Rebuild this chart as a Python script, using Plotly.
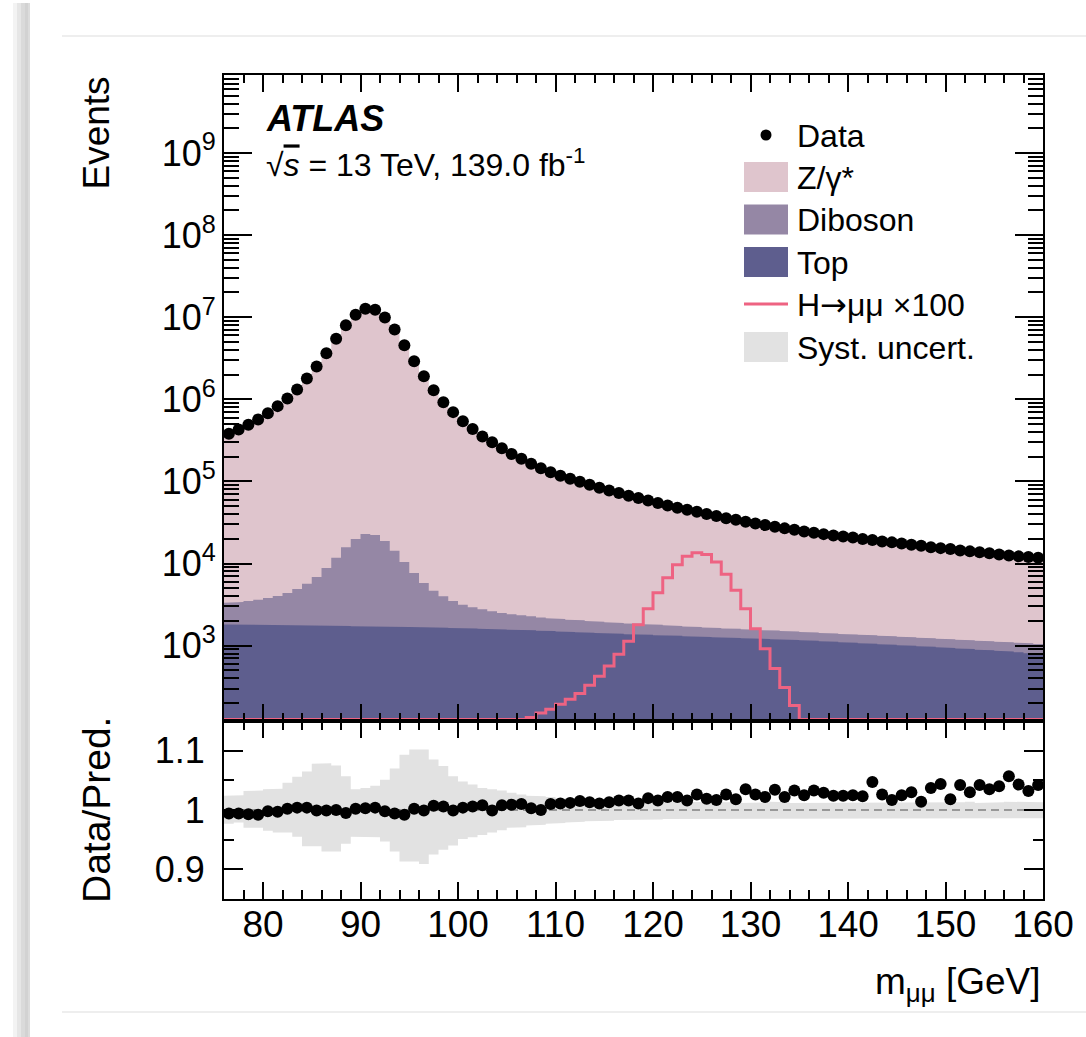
import plotly.graph_objects as go

# ---------------- data ----------------
bin_low_edges = list(range(76, 160))          # 1 GeV bins, 76 -> 160 GeV

data_events = [
    381000, 430000, 490000, 569000, 678000, 826000, 1023000, 1318000, 1795000, 2512000,
    3648000, 5458000, 8000000, 10690000, 12650000, 12300000, 9910000, 7080000, 4560000, 2910000,
    1914000, 1291000, 923000, 698000, 542000, 434000, 353000, 299000, 254000, 216000,
    189000, 164000, 145000, 129000, 117000, 108000, 99100, 91200, 83800, 77600,
    72100, 67000, 62700, 58700, 54500, 51000, 47900, 45300, 42800, 40000,
    37800, 35700, 34200, 32300, 30800, 29400, 28100, 26800, 25800, 24600,
    23700, 22800, 22000, 21400, 20700, 19900, 19300, 18600, 18100, 17500,
    16900, 16500, 15800, 15400, 15000, 14450, 14060, 13680, 13300, 12910,
    12560, 12220, 11990, 11780]

# top edge of the Z/gamma* layer (= total prediction)
stack_total = [
    383300, 432600, 493500, 573600, 679400, 828500, 1021000, 1313000, 1788000, 2515000,
    3652000, 5458000, 8040000, 10670000, 12610000, 12250000, 9930000, 7120000, 4600000, 2904000,
    1916000, 1282000, 917500, 698700, 539800, 431400, 350200, 299300, 252000, 214100,
    187100, 163500, 145000, 127700, 115700, 106700, 97600, 90000, 82900, 76600,
    71000, 65900, 62000, 57500, 53600, 49900, 46900, 44600, 41700, 39300,
    37200, 34800, 33600, 31200, 30000, 28800, 27200, 26200, 25000, 24000,
    22900, 22200, 21500, 20900, 20200, 19450, 18430, 18130, 17800, 17070,
    16410, 16270, 15240, 14750, 14730, 13870, 13650, 13130, 12850, 12410,
    11880, 11720, 11620, 11300]

# top edge of the Diboson layer (Top + Diboson)
stack_diboson = [
    3334, 3396, 3491, 3631, 3802, 4018, 4375, 4887, 5675, 6839,
    8810, 11780, 15740, 19860, 22860, 22230, 18790, 14320, 10420, 7656,
    5794, 4667, 3981, 3491, 3155, 2924, 2767, 2618, 2495, 2404,
    2339, 2275, 2208, 2148, 2109, 2070, 2032, 1995, 1959, 1923,
    1888, 1862, 1841, 1820, 1795, 1766, 1738, 1714, 1687, 1663,
    1641, 1622, 1600, 1581, 1560, 1542, 1524, 1503, 1486, 1469,
    1449, 1429, 1409, 1390, 1371, 1352, 1334, 1315, 1297, 1279,
    1262, 1245, 1227, 1211, 1194, 1178, 1161, 1146, 1130, 1114,
    1099, 1084, 1067, 1050]

# Top layer
stack_top = [
    1810, 1805, 1800, 1793, 1787, 1780, 1773, 1766, 1760, 1752,
    1745, 1738, 1731, 1724, 1717, 1710, 1703, 1696, 1689, 1682,
    1672, 1661, 1649, 1637, 1625, 1613, 1601, 1589, 1577, 1565,
    1550, 1534, 1518, 1502, 1486, 1470, 1454, 1438, 1422, 1406,
    1393, 1380, 1367, 1354, 1341, 1328, 1315, 1302, 1290, 1278,
    1266, 1254, 1242, 1230, 1219, 1208, 1197, 1186, 1175, 1164,
    1148, 1132, 1117, 1102, 1087, 1072, 1057, 1042, 1027, 1013,
    998, 983, 968, 953, 938, 923, 908, 893, 878, 864,
    850, 830, 810, 790]

# H -> mumu x100 (0 = below the visible range)
signal_x100 = [
    0, 0, 0, 0, 0, 0, 0, 0, 0, 0,
    0, 0, 0, 0, 0, 0, 0, 0, 0, 0,
    0, 0, 0, 0, 0, 0, 0, 0, 0, 0,
    0, 133, 151, 168, 193, 222, 262, 329, 423, 565,
    783, 1128, 1800, 2820, 4410, 6730, 9680, 12220, 13550, 12920,
    10430, 7380, 4710, 2820, 1610, 919, 525, 308, 186, 0,
    0, 0, 0, 0, 0, 0, 0, 0, 0, 0,
    0, 0, 0, 0, 0, 0, 0, 0, 0, 0,
    0, 0, 0, 0]

ratio = [
    0.994, 0.994, 0.993, 0.992, 0.998, 0.997, 1.002, 1.004, 1.004, 0.999,
    0.999, 1.000, 0.995, 1.002, 1.003, 1.004, 0.998, 0.994, 0.992, 1.002,
    0.999, 1.007, 1.006, 0.999, 1.004, 1.006, 1.008, 0.999, 1.008, 1.009,
    1.010, 1.003, 1.000, 1.010, 1.011, 1.012, 1.015, 1.013, 1.011, 1.013,
    1.016, 1.016, 1.011, 1.020, 1.016, 1.022, 1.022, 1.016, 1.026, 1.019,
    1.017, 1.026, 1.018, 1.035, 1.026, 1.022, 1.034, 1.022, 1.033, 1.025,
    1.033, 1.029, 1.024, 1.024, 1.025, 1.023, 1.047, 1.026, 1.017, 1.025,
    1.030, 1.014, 1.037, 1.044, 1.018, 1.042, 1.030, 1.042, 1.035, 1.040,
    1.057, 1.043, 1.032, 1.042]

syst_up = [
    1.024, 1.025, 1.032, 1.033, 1.035, 1.036, 1.046, 1.056, 1.065, 1.078,
    1.079, 1.075, 1.057, 1.035, 1.037, 1.041, 1.051, 1.070, 1.093, 1.102,
    1.102, 1.085, 1.074, 1.057, 1.048, 1.043, 1.037, 1.035, 1.033, 1.029,
    1.026, 1.024, 1.023, 1.022, 1.020, 1.019, 1.018, 1.017, 1.017, 1.016,
    1.016, 1.015, 1.015, 1.014, 1.014, 1.014, 1.013, 1.014, 1.013, 1.013,
    1.014, 1.013, 1.013, 1.012, 1.013, 1.013, 1.014, 1.013, 1.012, 1.013,
    1.013, 1.012, 1.013, 1.013, 1.012, 1.013, 1.013, 1.012, 1.013, 1.012,
    1.013, 1.012, 1.013, 1.013, 1.012, 1.013, 1.014, 1.012, 1.013, 1.013,
    1.014, 1.013, 1.014, 1.013]

syst_dn = [
    0.977, 0.979, 0.970, 0.970, 0.965, 0.962, 0.962, 0.955, 0.939, 0.939,
    0.930, 0.930, 0.943, 0.955, 0.954, 0.954, 0.947, 0.930, 0.913, 0.913,
    0.909, 0.925, 0.933, 0.940, 0.951, 0.954, 0.958, 0.962, 0.966, 0.970,
    0.971, 0.974, 0.975, 0.977, 0.978, 0.979, 0.980, 0.981, 0.982, 0.982,
    0.983, 0.983, 0.984, 0.984, 0.984, 0.985, 0.985, 0.985, 0.985, 0.986,
    0.985, 0.986, 0.986, 0.985, 0.986, 0.986, 0.985, 0.986, 0.986, 0.986,
    0.985, 0.986, 0.986, 0.986, 0.985, 0.986, 0.986, 0.986, 0.985, 0.986,
    0.986, 0.985, 0.986, 0.986, 0.986, 0.985, 0.986, 0.986, 0.986, 0.985,
    0.986, 0.985, 0.986, 0.986]

main_tick_vals = [1e3, 1e4, 1e5, 1e6, 1e7, 1e8, 1e9]
main_tick_text = ["10<sup>%d</sup>" % e for e in range(3, 10)]
ratio_tick_vals = [0.9, 1.0, 1.1]
ratio_tick_text = ["0.9", "1", "1.1"]
x_tick_vals = [80, 90, 100, 110, 120, 130, 140, 150, 160]

# ---------------- styling / geometry ----------------
W, H = 1086, 1037
ML, MR, MT, MB = 224, 43, 75, 138
PW, PH = W - ML - MR, H - MT - MB
X_MIN, X_MAX = 76, 160
LOGY = (2.082, 9.95)
RATIO_RANGE = (0.85, 1.15)
split = 178 / PH
FONT = "Liberation Sans, Arial, Helvetica, sans-serif"

C_Z = "#dfc5cd"
C_DIB = "#9587a5"
C_TOP = "#5e5e8e"
C_SIG = "#ee6382"
C_SYST = "#e2e2e2"

def xp(px):
    return (px - ML) / PW

def yp(py):
    return (H - MB - py) / PH

bin_width = 1
centers = [lo + bin_width / 2 for lo in bin_low_edges]
floor_val = 10 ** (LOGY[0] - 1)


def step_polygon(vals, floor):
    xs, ys = [], []
    for lo, v in zip(bin_low_edges, vals):
        xs += [lo, lo + bin_width]
        ys += [v, v]
    xs += [bin_low_edges[-1] + bin_width, bin_low_edges[0]]
    ys += [floor, floor]
    return xs, ys


def band_polygon(up, dn):
    xs, ys = [], []
    for lo, v in zip(bin_low_edges, up):
        xs += [lo, lo + bin_width]
        ys += [v, v]
    for lo, v in zip(reversed(bin_low_edges), reversed(dn)):
        xs += [lo + bin_width, lo]
        ys += [v, v]
    return xs, ys


fig = go.Figure()

for vals, col, name in [(stack_total, C_Z, "Z/γ*"), (stack_diboson, C_DIB, "Diboson"),
                        (stack_top, C_TOP, "Top")]:
    sx, sy = step_polygon(vals, floor_val)
    fig.add_trace(go.Scatter(x=sx, y=sy, mode="lines", fill="toself", fillcolor=col,
                             line=dict(width=0, color=col), name=name,
                             xaxis="x", yaxis="y", hoverinfo="skip"))

# signal step line, values below range drawn just above the bottom edge
sig_floor = 10 ** (LOGY[0] + 0.018)
sig_draw = [max(v, sig_floor) for v in signal_x100]
fig.add_trace(go.Scatter(x=bin_low_edges + [bin_low_edges[-1] + bin_width],
                         y=sig_draw + [sig_draw[-1]], mode="lines",
                         line=dict(shape="hv", color=C_SIG, width=3),
                         name="H→μμ ×100", xaxis="x", yaxis="y"))

fig.add_trace(go.Scatter(x=centers, y=data_events, mode="markers",
                         marker=dict(color="black", size=12), name="Data",
                         xaxis="x", yaxis="y"))

# ratio panel
bx, by = band_polygon(syst_up, syst_dn)
fig.add_trace(go.Scatter(x=bx, y=by, mode="lines", fill="toself", fillcolor=C_SYST,
                         line=dict(width=0, color=C_SYST), name="Syst. uncert.",
                         xaxis="x2", yaxis="y2", hoverinfo="skip"))
fig.add_trace(go.Scatter(x=[X_MIN, X_MAX], y=[1, 1], mode="lines",
                         line=dict(color="#808080", width=1.5, dash="8px,5px"),
                         xaxis="x2", yaxis="y2", hoverinfo="skip"))
fig.add_trace(go.Scatter(x=centers, y=ratio, mode="markers",
                         marker=dict(color="black", size=12),
                         xaxis="x2", yaxis="y2"))

axis_common = dict(showline=True, linecolor="black", linewidth=2, mirror="allticks",
                   ticks="inside", tickcolor="black", tickwidth=1.8, showgrid=False,
                   zeroline=False)

fig.update_layout(
    width=W, height=H, margin=dict(l=ML, r=MR, t=MT, b=MB, pad=0),
    paper_bgcolor="white", plot_bgcolor="white", showlegend=False,
    font=dict(family=FONT, color="black"),
    xaxis=dict(axis_common, domain=[0, 1], anchor="y", range=[X_MIN, X_MAX],
               tickvals=x_tick_vals, ticklen=17, showticklabels=False,
               minor=dict(dtick=2, tick0=76, ticks="inside", ticklen=8,
                          tickcolor="black", tickwidth=1.8)),
    xaxis2=dict(axis_common, domain=[0, 1], anchor="y2", range=[X_MIN, X_MAX],
                matches="x", tickvals=x_tick_vals, ticklen=17,
                tickfont=dict(size=37, family=FONT), ticklabelstandoff=-8,
                minor=dict(dtick=2, tick0=76, ticks="inside", ticklen=9,
                           tickcolor="black", tickwidth=1.8)),
    yaxis=dict(axis_common, domain=[split, 1], anchor="x", type="log",
               range=list(LOGY), tickvals=main_tick_vals, ticktext=main_tick_text,
               ticklen=28, tickfont=dict(size=36, family=FONT), ticklabelstandoff=-1,
               minor=dict(tickvals=[m * 10 ** e for e in range(2, 10) for m in range(2, 10)],
                          ticks="inside", ticklen=15, tickcolor="black", tickwidth=1.5)),
    yaxis2=dict(axis_common, domain=[0, split], anchor="x2",
                range=list(RATIO_RANGE), tickvals=ratio_tick_vals, ticktext=ratio_tick_text,
                ticklen=19, tickfont=dict(size=36, family=FONT), ticklabelstandoff=10,
                minor=dict(tickvals=[0.95, 1.05], ticks="inside", ticklen=10,
                           tickcolor="black", tickwidth=1.8)),
)

ann = []
ann.append(dict(text="Events", textangle=-90, x=xp(96), y=1, xref="paper", yref="paper",
                xanchor="center", yanchor="top", showarrow=False,
                font=dict(size=37, family=FONT)))
ann.append(dict(text="Data/Pred.", textangle=-90, x=xp(96), y=yp(810), xref="paper",
                yref="paper", xanchor="center", yanchor="middle", showarrow=False,
                font=dict(size=39, family=FONT)))
ann.append(dict(text="m<sub>μμ</sub> [GeV]", x=1, y=yp(984), xref="paper", yref="paper",
                xanchor="right", yanchor="middle", showarrow=False,
                font=dict(size=37, family=FONT)))
ann.append(dict(text="<b><i>ATLAS</i></b>", x=xp(264), y=yp(119), xref="paper",
                yref="paper", xanchor="left", yanchor="middle", showarrow=False,
                font=dict(size=36, family=FONT)))
ann.append(dict(text="√<span style='text-decoration:overline'><i>s</i></span> = 13 TeV, 139.0 fb<sup>-1</sup>",
                x=xp(264), y=yp(163),
                xref="paper", yref="paper", xanchor="left", yanchor="middle",
                showarrow=False, font=dict(size=32, family=FONT)))

legend_rows = [("Data", 135), ("Z/γ*", 177), ("Diboson", 219.5), ("Top", 262),
               ("H<span style='font-family:DejaVu Sans'>→</span>μμ ×100", 304),
               ("Syst. uncert.", 347)]
shapes = []
box_x0, box_x1, box_h = 744, 788, 30
for label, cy in legend_rows:
    ann.append(dict(text=label, x=xp(795), y=yp(cy + 1), xref="paper", yref="paper",
                    xanchor="left", yanchor="middle", showarrow=False,
                    font=dict(size=32, family=FONT)))
legend_fill = {"Z/γ*": C_Z, "Diboson": C_DIB, "Top": C_TOP, "Syst. uncert.": C_SYST}
for label, cy in legend_rows:
    if label in legend_fill:
        shapes.append(dict(type="rect", xref="paper", yref="paper",
                           x0=xp(box_x0), x1=xp(box_x1), y0=yp(cy - box_h / 2),
                           y1=yp(cy + box_h / 2), fillcolor=legend_fill[label],
                           line=dict(width=0)))
    elif label == "Data":
        shapes.append(dict(type="circle", xref="paper", yref="paper",
                           x0=xp(766 - 5.5), x1=xp(766 + 5.5), y0=yp(cy + 5.5),
                           y1=yp(cy - 5.5), fillcolor="black", line=dict(width=0)))
    else:
        shapes.append(dict(type="line", xref="paper", yref="paper",
                           x0=xp(box_x0), x1=xp(box_x1), y0=yp(cy), y1=yp(cy),
                           line=dict(color=C_SIG, width=3)))

# page/card decoration around the figure
for x0, x1, col in [(13, 17, "#f3f3f3"), (17, 21, "#e6e6e6"), (21, 25, "#dadada"),
                    (25, 28, "#d2d2d2"), (28, 30, "#dcdcdc")]:
    shapes.append(dict(type="rect", xref="paper", yref="paper", x0=xp(x0), x1=xp(x1),
                       y0=yp(H), y1=yp(3), fillcolor=col, line=dict(width=0),
                       layer="below"))
for ly in (36, 1012):
    shapes.append(dict(type="line", xref="paper", yref="paper", x0=xp(62), x1=xp(W),
                       y0=yp(ly), y1=yp(ly), line=dict(color="#e8e8e8", width=1.5)))

fig.update_layout(annotations=ann, shapes=shapes)
fig.write_html("out.html")
